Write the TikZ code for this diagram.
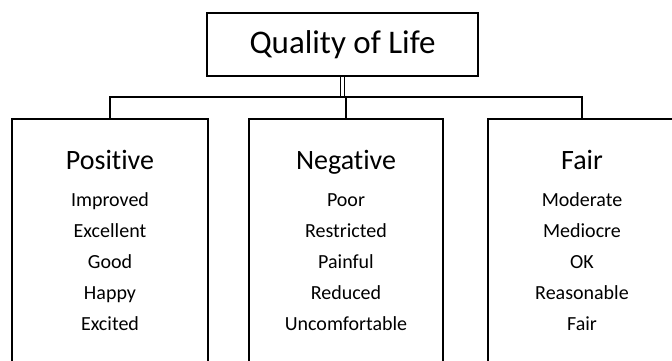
\documentclass[tikz,border=0pt]{standalone}
\usepackage{fontspec}
\setmainfont[Ligatures=NoCommon]{Carlito}
\usetikzlibrary{positioning}

\begin{document}
\begin{tikzpicture}[x=1pt,y=-1pt,line width=1.6pt,
    topbox/.style={draw, minimum width=271pt, minimum height=63pt, font=\fontsize{33}{40}\selectfont},
    catbox/.style={draw, anchor=north, minimum height=280pt},
    cathead/.style={anchor=base, font=\fontsize{28}{32}\selectfont},
    catitem/.style={anchor=base, font=\fontsize{20}{24}\selectfont}]

                      % Frame
                      \useasboundingbox (0,0) rectangle (672,361);
                      \clip (0,0) rectangle (672,361);

                  % Top box
                  \node[topbox] (qol) at (342.5,44.5) {Quality of Life};

                      % Category boxes
                      \node[catbox, minimum width=196pt] (pos) at (110,118) {};
                      \node[catbox, minimum width=194pt] (neg) at (346,118) {};
                      \node[catbox, minimum width=188pt] (fair) at (582,118) {};

                      % Headings
                      \node[cathead] (poshead) at (110,169) {Positive};
                      \node[cathead] (neghead) at (346,169) {Negative};
                      \node[cathead] (fairhead) at (582,169) {Fair};

                      % Items
                      \foreach \w [count=\i] in {Improved,Excellent,Good,Happy,Excited}
                        \node[catitem] (pos\i) at (110,175+31*\i) {\w};
                      \foreach \w [count=\i] in {Poor,Restricted,Painful,Reduced,Uncomfortable}
                        \node[catitem] (neg\i) at (346,175+31*\i) {\w};
                      \foreach \w [count=\i] in {Moderate,Mediocre,OK,Reasonable,Fair}
                        \node[catitem] (fair\i) at (582,175+31*\i) {\w};

                  % Connectors
                  \coordinate (bar) at (345,97);
                  \draw[double, line width=1.1pt, double distance=2.5pt] (qol.south) -- (qol.south |- bar);
                  \draw (pos.north) |- (bar) -| (fair.north);
                  \draw (neg.north) -- (neg.north |- bar);
\end{tikzpicture}
\end{document}
